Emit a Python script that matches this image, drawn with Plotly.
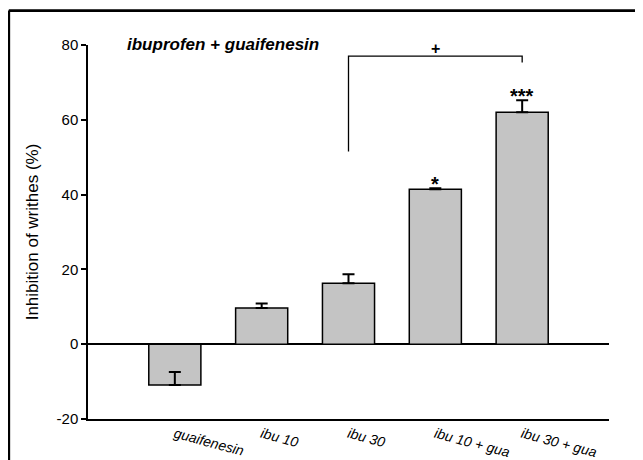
import plotly.graph_objects as go

categories = ["guaifenesin", "ibu 10", "ibu 30", "ibu 10 + gua", "ibu 30 + gua"]
inhibition = [-10.9, 9.7, 16.3, 41.4, 62.0]
sem = [3.5, 1.2, 2.4, 0.3, 3.2]
significance = ["", "", "", "*", "***"]

bracket_from = "ibu 30"
bracket_to = "ibu 30 + gua"
bracket_top = 77.0
bracket_left_end = 51.5
bracket_right_end = 75.3
bracket_label = "+"

y_ticks = [-20, 0, 20, 40, 60, 80]
y_tick_labels = ["-20", "0", "20", "40", "60", "80"]

FONT = "Arial, Liberation Sans, sans-serif"
BAR_FILL = "#c4c4c4"

xpos = list(range(len(categories)))
fig = go.Figure()
fig.add_trace(go.Bar(
    x=xpos, y=inhibition, width=0.6,
    marker=dict(color=BAR_FILL, line=dict(color="black", width=1.5)),
    error_y=dict(type="data", symmetric=False, array=sem,
                 arrayminus=[0] * len(sem), color="black", thickness=2, width=6),
    showlegend=False,
))

annotations = []
for i, (v, e, s) in enumerate(zip(inhibition, sem, significance)):
    if s:
        annotations.append(dict(x=i, y=v + e, text=f"<b>{s}</b>", showarrow=False,
                                xref="x", yref="y", yanchor="bottom", yshift=-9,
                                font=dict(family=FONT, size=20, color="black")))

i0 = categories.index(bracket_from)
i1 = categories.index(bracket_to)
shapes = [
    dict(type="path", xref="x", yref="y",
         path=f"M {i0} {bracket_left_end} L {i0} {bracket_top} L {i1} {bracket_top} L {i1} {bracket_right_end}",
         line=dict(color="black", width=1.3)),
    # outer frame (left and top)
    dict(type="line", xref="paper", yref="paper", x0=-0.152, x1=-0.152, y0=-0.3, y1=1.092,
         line=dict(color="black", width=2.7)),
    dict(type="line", xref="paper", yref="paper", x0=-0.152, x1=1.3, y0=1.092, y1=1.092,
         line=dict(color="black", width=2.7)),
]
annotations.append(dict(x=(i0 + i1) / 2, y=bracket_top, text=f"<b>{bracket_label}</b>",
                        showarrow=False, xref="x", yref="y", yanchor="bottom", yshift=-3,
                        font=dict(family=FONT, size=16, color="black")))
annotations.append(dict(x=0.071, y=1.0013, xref="paper", yref="paper", xanchor="left",
                        yanchor="middle", showarrow=False,
                        text="<b><i>ibuprofen + guaifenesin</i></b>",
                        font=dict(family=FONT, size=17, color="black")))

# the page body has an 8px margin, so the figure is sized/offset to compensate
fig.update_layout(
    width=635, height=452,
    margin=dict(l=80, r=34, t=36.5, b=41, autoexpand=False),
    paper_bgcolor="white", plot_bgcolor="white",
    font=dict(family=FONT, size=15, color="black"),
    shapes=shapes, annotations=annotations,
    xaxis=dict(range=[-1, 5], tickmode="array", tickvals=xpos,
               ticktext=[f"<i>{c}</i>" for c in categories],
               tickangle=15, showline=True, linecolor="black", linewidth=1.5,
               ticks="", showgrid=False, zeroline=False, automargin=False,
               tickfont=dict(family=FONT, size=14)),
    yaxis=dict(range=[-20, 80], tickvals=y_ticks, ticktext=y_tick_labels,
               ticks="outside", ticklen=5, automargin=False,
               tickwidth=1.5, tickcolor="black", showline=True, linecolor="black",
               linewidth=1.5, showgrid=False, zeroline=True, zerolinecolor="black",
               zerolinewidth=1.5, tickfont=dict(family=FONT, size=15),
               title=dict(text="Inhibition of writhes (%)", standoff=14,
                          font=dict(family=FONT, size=17))),
)

fig.write_html("out.html")
